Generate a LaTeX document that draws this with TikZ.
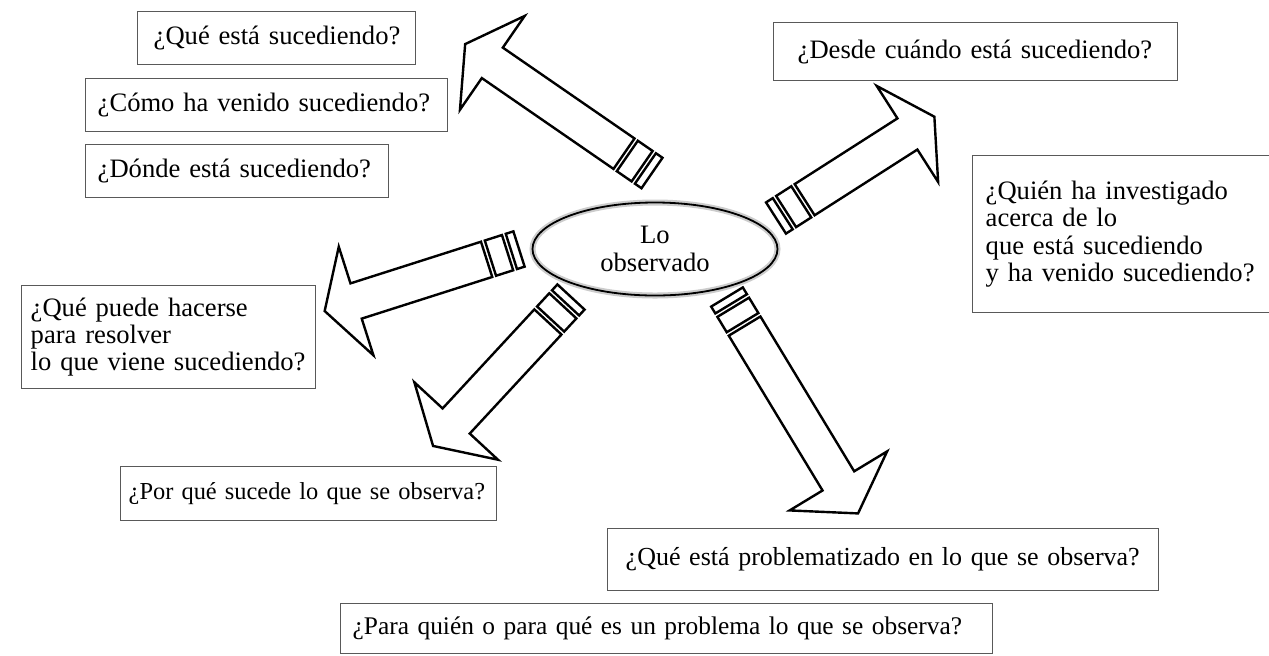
\documentclass[tikz,border=0pt]{standalone}
\usepackage{fontspec}
\setmainfont{Liberation Serif}
\usetikzlibrary{shapes.geometric}
\definecolor{boxgray}{gray}{0.35}
\newcommand\qf{\fontsize{13.3}{13.6}\selectfont}
\tikzset{
  qbox/.style={draw=boxgray, line width=0.7pt, anchor=north west, align=left,
    font=\qf, inner ysep=0pt},
  arr/.style={draw=black, line width=1.2pt, fill=white, line join=miter},
}
% tail x, tail y, rotation, total length, head length
\newcommand\blockarr[5]{%
  \begin{scope}[shift={(#1,#2)},rotate=#3]
    \draw[arr] (0,-18.5) rectangle (8,18.5);
    \draw[arr] (12,-18.5) rectangle (30,18.5);
    \draw[arr] (34,-18.5) -- ({#4-#5},-18.5) -- ({#4-#5},-57) -- (#4,0)
      -- ({#4-#5},57) -- ({#4-#5},18.5) -- (34,18.5) -- cycle;
  \end{scope}}
\begin{document}
\begin{tikzpicture}[x=0.5pt,y=-0.5pt]
\useasboundingbox[fill=white] (0,0) rectangle (1269,655);

% question boxes
\node[qbox, text width=123pt, inner xsep=8pt, minimum height=26.5pt] (b1) at (137,11)
  {\mbox{¿Qué está sucediendo?}};
\node[qbox, text width=169pt, inner xsep=6pt, minimum height=26.5pt] (b2) at (85,78)
  {\mbox{¿Cómo ha venido sucediendo?}};
\node[qbox, text width=139.5pt, inner xsep=6pt, minimum height=26.5pt] (b3) at (85,144)
  {\mbox{¿Dónde está sucediendo?}};
\node[qbox, text width=178pt, inner xsep=12pt, minimum height=29pt] (b4) at (773,22)
  {\mbox{¿Desde cuándo está sucediendo?}};
\node[qbox, text width=137pt, inner xsep=6.5pt, minimum height=78.5pt] (b5) at (972,155)
  {\mbox{¿Quién ha investigado}\\\mbox{acerca de lo}\\\mbox{que está sucediendo}\\\mbox{y ha venido sucediendo?}};
\node[qbox, text width=138pt, inner xsep=4.5pt, minimum height=51.5pt] (b6) at (21,285)
  {\mbox{¿Qué puede hacerse}\\\mbox{para resolver}\\\mbox{lo que viene sucediendo?}};
\node[qbox, text width=180pt, inner xsep=4pt, minimum height=27pt,
  font=\fontsize{12.2}{13}\selectfont] (b7) at (120,466)
  {\mbox{¿Por qué sucede lo que se observa?}};
\node[qbox, text width=257.5pt, inner xsep=9pt, minimum height=31pt,
  font=\fontsize{13}{13.5}\selectfont] (b8) at (607,528)
  {\mbox{¿Qué está problematizado en lo que se observa?}};
\node[qbox, text width=314pt, inner xsep=6pt, minimum height=25pt,
  font=\fontsize{12.7}{13}\selectfont] (b9) at (340,603)
  {\mbox{¿Para quién o para qué es un problema lo que se observa?}};

% centre ellipse
\node[ellipse, draw=black, line width=0.9pt, preaction={draw=gray!40, line width=3pt},
  minimum width=122.5pt, minimum height=46.5pt, align=center, font=\qf,
  inner sep=0pt] (obs) at (655,249) {Lo\\observado};

% block arrows
\blockarr{652}{173}{145.4}{227}{33}
\blockarr{776}{218}{32.6}{188}{32}
\blockarr{519}{249}{-162.3}{204}{33}
\blockarr{571}{297}{-132.8}{203}{34}
\blockarr{727}{297}{-58.8}{253}{38}
\end{tikzpicture}
\end{document}
